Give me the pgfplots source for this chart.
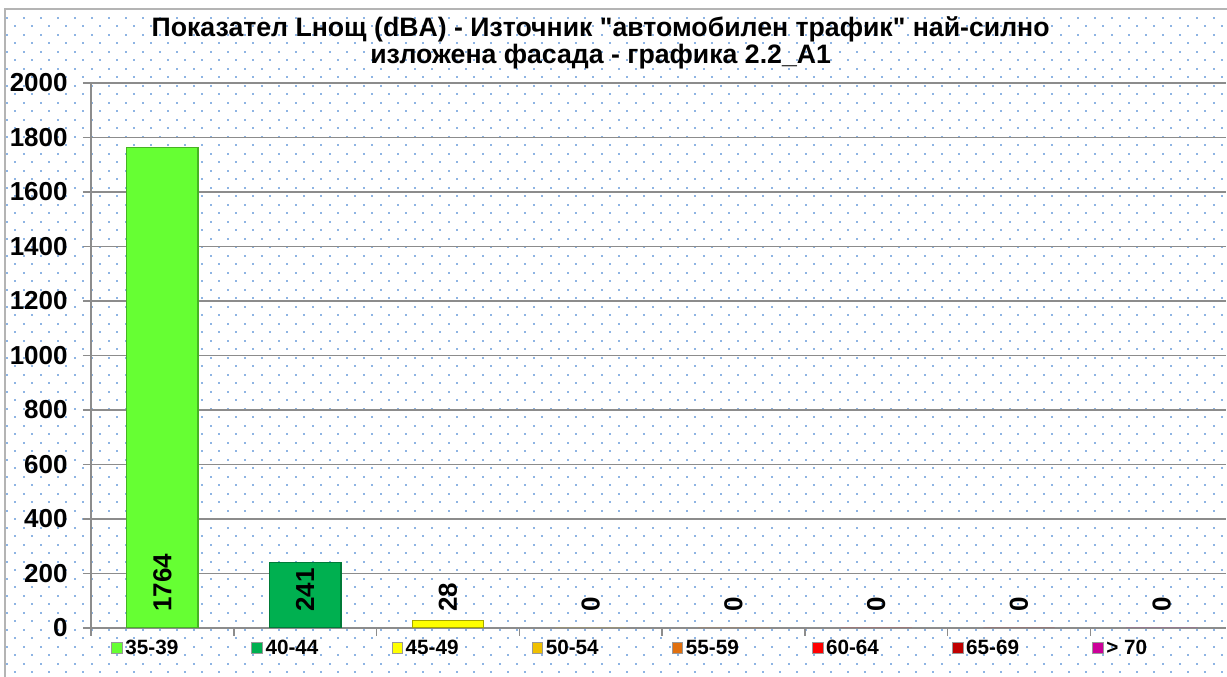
\documentclass[border=0pt]{standalone}
\usepackage{pgfplots}
\pgfplotsset{compat=1.18}
\usepackage{fontspec}
\setmainfont{Liberation Sans}[Ligatures=TeXOff]
\definecolor{c1}{HTML}{66FF33}
\definecolor{c2}{HTML}{00B050}
\definecolor{c3}{HTML}{FFFF00}
\definecolor{c4}{HTML}{F0C000}
\definecolor{c5}{HTML}{E07010}
\definecolor{c6}{HTML}{FF0000}
\definecolor{c7}{HTML}{C00000}
\definecolor{c8}{HTML}{CC0099}
\definecolor{dotc}{HTML}{8EB4E3}
\definecolor{gridc}{HTML}{8C8C8C}
\definecolor{framec}{HTML}{B4B4B4}
\pgfplotsset{sqleg/.style={legend image code/.code={\draw[fill=#1, draw=gray!80, line width=0.6pt] (0pt,-4pt) rectangle (8pt,4pt);}}}
\begin{document}
\begin{tikzpicture}
\useasboundingbox[fill=white] (0,0) rectangle (920.25pt,507.75pt);
\foreach \k in {0,...,79}{
  \pgfmathsetmacro\yy{0.75*(677-9.3-8.5*\k)}
  \pgfmathsetmacro\off{15-8.5*mod(\k,2)}
  \foreach \m in {0,...,72}{
    \pgfmathsetmacro\xx{0.75*(\off+17*\m)}
    \fill[dotc] (\xx pt-0.75pt,\yy pt-0.75pt) rectangle ++(1.5pt,1.5pt);
  }
}
\draw[framec, line width=1.5pt] (3.75pt,0pt) -- (3.75pt,501pt) -- (920.25pt,501pt);
\begin{axis}[
  at={(68.25pt,36.75pt)}, anchor=south west,
  scale only axis, width=851.25pt, height=408.75pt,
  xmin=-0.5, xmax=7.45, ymin=0, ymax=2000,
  axis x line=bottom, axis y line=left,
  axis line style={-, gridc, line width=1.1pt},
  ytick={0,200,...,2000},
  xtick={-0.5,0.5,...,6.5}, xticklabels={},
  tick align=outside, major tick length=6pt,
  tick style={gridc, line width=1.1pt},
  ymajorgrids, grid style={gridc, line width=1.1pt},
  /pgf/number format/assume math mode=true,
  /pgf/number format/1000 sep={},
  yticklabel style={font=\bfseries\fontsize{19.5}{20}\selectfont, text=black, xshift=-8pt},
  title={Показател Lнощ (dBA) - Източник "автомобилен трафик" най-силно\\изложена фасада - графика 2.2\_A1},
  title style={align=center, font=\bfseries\fontsize{20}{20.5}\selectfont, at={(0.449,1.0585)}, anchor=center},
  legend columns=8, legend cell align=left,
  legend style={draw=none, fill=none, at={(0,0)}, anchor=west, xshift=12pt, yshift=-15pt,
    font=\bfseries\fontsize{15.5}{16}\selectfont,
    /tikz/every even column/.append style={column sep=0pt}},
  bar width=0.5,
]
\addplot[ybar, bar shift=0pt, fill=c1, draw=c1!70!black, line width=1pt, sqleg=c1] coordinates {(0,1764)};
\addlegendentry{\makebox[92.5pt][l]{35-39}}
\addplot[ybar, bar shift=0pt, fill=c2, draw=c2!70!black, line width=1pt, sqleg=c2] coordinates {(1,241)};
\addlegendentry{\makebox[92.5pt][l]{40-44}}
\addplot[ybar, bar shift=0pt, fill=c3, draw=c3!65!black, line width=1pt, sqleg=c3] coordinates {(2,28)};
\addlegendentry{\makebox[92.5pt][l]{45-49}}
\addplot[ybar, bar shift=0pt, fill=c4, draw=none, sqleg=c4] coordinates {(3,0)};
\addlegendentry{\makebox[92.5pt][l]{50-54}}
\addplot[ybar, bar shift=0pt, fill=c5, draw=none, sqleg=c5] coordinates {(4,0)};
\addlegendentry{\makebox[92.5pt][l]{55-59}}
\addplot[ybar, bar shift=0pt, fill=c6, draw=none, sqleg=c6] coordinates {(5,0)};
\addlegendentry{\makebox[92.5pt][l]{60-64}}
\addplot[ybar, bar shift=0pt, fill=c7, draw=none, sqleg=c7] coordinates {(6,0)};
\addlegendentry{\makebox[92.5pt][l]{65-69}}
\addplot[ybar, bar shift=0pt, fill=c8, draw=none, sqleg=c8] coordinates {(7,0)};
\addlegendentry{> 70}
\addplot[forget plot, draw=none, mark=none, nodes near coords, point meta=explicit,
  every node near coord/.append style={rotate=90, anchor=west, inner xsep=12pt, inner ysep=0pt,
    font=\bfseries\fontsize{19.5}{20}\selectfont, text=black}]
  table[meta=v] {
  x y v
  0 0 1764
  1 0 241
  2 0 28
  3 0 0
  4 0 0
  5 0 0
  6 0 0
  7 0 0
  };
\end{axis}
\end{tikzpicture}
\end{document}
